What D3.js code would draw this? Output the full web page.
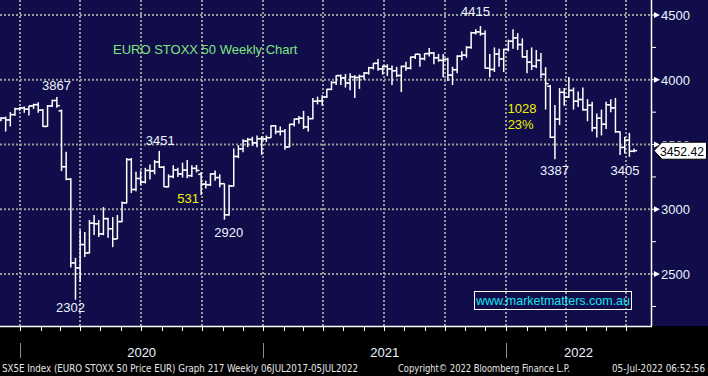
<!DOCTYPE html>
<html>
<head>
<meta charset="utf-8">
<script src="https://cdn.jsdelivr.net/npm/d3@7"></script>
<style>
	body { margin: 0; background: #000; }
	svg { display: block; font-family: "Liberation Sans", Arial, sans-serif; }
</style>
</head>
<body>
<svg id="chart" width="708" height="376"></svg>
<script>

// Weekly bars, each dated by the Friday that closes the week
const firstWeek = "2019-11-29";

const opens = [
	3690, 3704, 3690, 3731, 3776, 3782, 3773, 3798, 3808, 3766, 3640, 3798, 3840,
	3760, 3329, 3232, 2586, 2548, 2728, 2663, 2893, 2888, 2810, 2928, 2850, 2771,
	2905, 3050, 3384, 3153, 3238, 3210, 3300, 3296, 3366, 3325, 3174, 3253, 3305,
	3273, 3303, 3260, 3316, 3270, 3194, 3190, 3273, 3245, 3198, 2958, 3180, 3408,
	3467, 3527, 3539, 3513, 3545, 3543, 3553, 3645, 3600, 3602, 3481, 3656, 3697,
	3703, 3636, 3700, 3834, 3837, 3867, 3926, 3979, 4032, 4014, 3975, 4023, 4018,
	4026, 4052, 4093, 4127, 4084, 4103, 4084, 4070, 4033, 4103, 4089, 4175, 4197,
	4163, 4202, 4207, 4170, 4150, 4158, 4036, 4078, 4182, 4190, 4250, 4363, 4370,
	4356, 4089, 4080, 4199, 4161, 4234, 4298, 4324, 4272, 4177, 4136, 4105, 4150,
	4042, 3950, 3556, 3696, 3903, 3867, 3918, 3835, 3848, 3769, 3803, 3629, 3703,
	3657, 3807, 3783, 3599, 3478, 3533, 3448
];
const highs = [
	3712, 3716, 3750, 3785, 3790, 3794, 3800, 3815, 3826, 3775, 3805, 3846, 3867,
	3770, 3445, 3240, 2625, 2840, 2824, 2917, 2956, 2917, 3017, 2935, 2940, 2956,
	3060, 3396, 3396, 3290, 3300, 3320, 3345, 3380, 3451, 3335, 3270, 3340, 3320,
	3360, 3380, 3340, 3342, 3288, 3220, 3280, 3300, 3270, 3200, 3190, 3470, 3495,
	3540, 3551, 3560, 3570, 3565, 3570, 3648, 3650, 3640, 3620, 3660, 3700, 3720,
	3760, 3720, 3860, 3870, 3880, 3930, 3990, 4035, 4040, 4045, 4050, 4035, 4040,
	4060, 4100, 4130, 4160, 4110, 4120, 4110, 4100, 4110, 4140, 4180, 4200, 4200,
	4205, 4245, 4215, 4200, 4200, 4170, 4100, 4190, 4220, 4260, 4370, 4390, 4415,
	4380, 4200, 4250, 4240, 4240, 4310, 4390, 4360, 4320, 4230, 4250, 4230, 4207,
	4098, 3960, 3805, 3936, 3936, 4021, 3940, 3910, 3940, 3850, 3830, 3740, 3770,
	3830, 3850, 3860, 3600, 3560, 3590, 3470
];
const lows = [
	3680, 3600, 3640, 3722, 3760, 3745, 3725, 3775, 3745, 3635, 3638, 3790, 3784,
	3295, 3225, 2550, 2302, 2438, 2631, 2660, 2801, 2786, 2800, 2780, 2708, 2770,
	2900, 3045, 3125, 3140, 3190, 3200, 3230, 3270, 3320, 3172, 3170, 3240, 3250,
	3245, 3240, 3250, 3285, 3110, 3160, 3180, 3220, 3170, 2920, 2950, 3175, 3395,
	3440, 3480, 3490, 3480, 3420, 3520, 3550, 3580, 3570, 3460, 3480, 3640, 3660,
	3620, 3600, 3695, 3810, 3800, 3860, 3920, 3960, 3960, 3940, 3920, 3860, 3930,
	4000, 4040, 4080, 4070, 4040, 4030, 3960, 4020, 3905, 4070, 4080, 4160, 4100,
	4150, 4180, 4120, 4140, 4020, 3990, 3960, 4050, 4150, 4170, 4240, 4350, 4340,
	4085, 4020, 4060, 4100, 4060, 4220, 4240, 4230, 4170, 4050, 4075, 4090, 4013,
	3770, 3550, 3387, 3650, 3800, 3860, 3770, 3790, 3760, 3680, 3600, 3555, 3570,
	3620, 3750, 3590, 3420, 3430, 3405, 3440
];
const closes = [
	3704, 3690, 3731, 3776, 3782, 3773, 3798, 3808, 3766, 3640, 3798, 3840, 3800,
	3329, 3232, 2586, 2548, 2728, 2663, 2893, 2888, 2810, 2928, 2850, 2771, 2905,
	3050, 3384, 3153, 3238, 3210, 3300, 3296, 3366, 3325, 3174, 3253, 3305, 3273,
	3303, 3260, 3316, 3300, 3194, 3190, 3273, 3245, 3198, 2958, 3180, 3408, 3467,
	3527, 3539, 3513, 3545, 3543, 3553, 3645, 3600, 3602, 3481, 3656, 3697, 3703,
	3636, 3700, 3834, 3837, 3867, 3926, 3979, 4032, 4014, 3975, 4023, 4018, 4026,
	4052, 4093, 4127, 4084, 4103, 4084, 4070, 4033, 4103, 4089, 4175, 4197, 4163,
	4202, 4207, 4170, 4150, 4158, 4036, 4078, 4182, 4190, 4250, 4363, 4370, 4356,
	4089, 4080, 4199, 4161, 4234, 4298, 4324, 4272, 4177, 4136, 4105, 4150, 4042,
	3970, 3556, 3696, 3903, 3867, 3918, 3835, 3848, 3769, 3803, 3629, 3703, 3657,
	3807, 3783, 3599, 3478, 3533, 3448, 3452.42
];

const yTicks = [2500, 3000, 3500, 4000, 4500];
const yMinorTicks = [2250, 2750, 3250, 3750, 4250];
const years = ["2020", "2021", "2022"];
const lastPrice = 3452.42;

// Callouts, anchored in chart units (date, index level)
const whiteLabels = [
	{ text: "3867", date: "2020-02-25", value: 3921 },
	{ text: "2302", date: "2020-03-17", value: 2207 },
	{ text: "3451", date: "2020-07-30", value: 3496 },
	{ text: "2920", date: "2020-11-10", value: 2786 },
	{ text: "4415", date: "2021-11-16", value: 4492 },
	{ text: "3387", date: "2022-03-15", value: 3264 },
	{ text: "3405", date: "2022-06-29", value: 3264 }
];
const yellowLabels = [
	{ text: "531", date: "2020-09-10", value: 3048 },
	{ text: "1028", date: "2022-01-25", value: 3743 },
	{ text: "23%", date: "2022-01-23", value: 3620 }
];

const footerLeft = "SX5E Index (EURO STOXX 50 Price EUR) Graph 217  Weekly 06JUL2017-05JUL2022";
const footerMid = "Copyright\u00A9 2022 Bloomberg Finance L.P.";
const footerRight = "05-Jul-2022 06:52:56";

// ------- Layout -------
const width = 708, height = 376;
const plotW = 651, plotH = 326;
const barShift = 3;

const parseDate = d3.timeParse("%Y-%m-%d");
const bars = closes.map((c, i) => ({
	date: d3.timeDay.offset(parseDate(firstWeek), 7 * i),
	open: opens[i], high: highs[i], low: lows[i], close: c
}));

const xScale = d3.scaleTime()
				.domain([parseDate("2019-12-02"), parseDate("2022-08-07")])
				.range([0, plotW]);

const yScale = d3.scaleLinear()
				.domain([2099, 4616])
				.range([plotH, 0]);

const svg = d3.select("#chart");

svg.append("rect")
	.attr("width", width)
	.attr("height", height)
	.attr("fill", "#000");

svg.append("rect")
	.attr("width", width)
	.attr("height", plotH)
	.attr("fill", "#100d4a");

svg.append("defs")
	.append("clipPath")
		.attr("id", "plot-clip")
	.append("rect")
		.attr("width", plotW)
		.attr("height", plotH);

const plot = svg.append("g")
				.attr("clip-path", "url(#plot-clip)");

// Dotted grid
const quarters = d3.timeMonth.every(3).range(parseDate("2020-01-01"), parseDate("2022-08-01"));

plot.selectAll(".hgrid")
	.data(yTicks)
	.enter()
	.append("line")
		.attr("x1", 0)
		.attr("x2", plotW)
		.attr("y1", d => yScale(d))
		.attr("y2", d => yScale(d))
		.attr("stroke", "#9a9a9a")
		.attr("stroke-width", 2)
		.attr("stroke-dasharray", "2,2");

plot.selectAll(".vgrid")
	.data(quarters)
	.enter()
	.append("line")
		.attr("x1", d => Math.round(xScale(d)))
		.attr("x2", d => Math.round(xScale(d)))
		.attr("y1", 0)
		.attr("y2", plotH)
		.attr("stroke", "#9a9a9a")
		.attr("stroke-width", 2)
		.attr("stroke-dasharray", "2,2");

// OHLC bars
const barX = d => xScale(d.date) + barShift;

const ohlc = plot.selectAll(".bar")
				.data(bars)
				.enter()
				.append("g")
				.attr("stroke", "#fff")
				.attr("stroke-width", 1.5);

ohlc.append("line")
	.attr("x1", barX)
	.attr("x2", barX)
	.attr("y1", d => yScale(d.high))
	.attr("y2", d => yScale(d.low));

ohlc.append("line")
	.attr("x1", d => barX(d) - 3)
	.attr("x2", barX)
	.attr("y1", d => yScale(d.open))
	.attr("y2", d => yScale(d.open));

ohlc.append("line")
	.attr("x1", barX)
	.attr("x2", d => barX(d) + 3)
	.attr("y1", d => yScale(d.close))
	.attr("y2", d => yScale(d.close));

// Callouts
plot.selectAll(".callout-white")
	.data(whiteLabels)
	.enter()
	.append("text")
		.attr("x", d => xScale(parseDate(d.date)))
		.attr("y", d => yScale(d.value))
		.attr("text-anchor", "middle")
		.attr("font-size", 13)
		.attr("fill", "#eef3ff")
		.text(d => d.text);

plot.selectAll(".callout-yellow")
	.data(yellowLabels)
	.enter()
	.append("text")
		.attr("x", d => xScale(parseDate(d.date)))
		.attr("y", d => yScale(d.value))
		.attr("text-anchor", "middle")
		.attr("font-size", 13)
		.attr("fill", "#f2f200")
		.text(d => d.text);

plot.append("text")
	.attr("x", 113)
	.attr("y", 54)
	.attr("font-size", 13)
	.attr("fill", "#7fe57f")
	.text("EURO STOXX 50 Weekly Chart");

// Watermark box
const mark = plot.append("g");
mark.append("rect")
	.attr("x", 474.5)
	.attr("y", 291.5)
	.attr("width", 157)
	.attr("height", 18)
	.attr("fill", "none")
	.attr("stroke", "#fff")
	.attr("stroke-width", 1);
mark.append("text")
	.attr("x", 476)
	.attr("y", 305)
	.attr("font-size", 13)
	.attr("textLength", 154)
	.attr("lengthAdjust", "spacingAndGlyphs")
	.attr("fill", "#19e3f0")
	.text("www.marketmatters.com.au");

// Right price axis
const yAxis = svg.append("g")
				.attr("transform", "translate(" + plotW + ",0)");

yAxis.append("line")
	.attr("x1", 0.5).attr("x2", 0.5)
	.attr("y1", 0).attr("y2", plotH)
	.attr("stroke", "#fff")
	.attr("stroke-width", 1.5);

yAxis.selectAll(".minor")
	.data(yMinorTicks)
	.enter()
	.append("line")
		.attr("x1", 0).attr("x2", 5)
		.attr("y1", d => yScale(d)).attr("y2", d => yScale(d))
		.attr("stroke", "#fff");

const major = yAxis.selectAll(".major")
					.data(yTicks)
					.enter()
					.append("g")
					.attr("transform", d => "translate(0," + yScale(d) + ")");

major.append("path")
	.attr("d", "M0,-0.5 L3,-0.5 L3,-3 L9,0 L3,3 L3,0.5 L0,0.5 Z")
	.attr("fill", "#fff");

major.append("text")
	.attr("x", 10)
	.attr("y", 5)
	.attr("font-size", 13)
	.attr("fill", "#eef3ff")
	.text(d => d);

// Last price flag (sits over the 3500 label, as on the terminal)
const flag = yAxis.append("g")
				.attr("transform", "translate(0," + yScale(lastPrice) + ")");

flag.append("path")
	.attr("d", "M3,0 L11,-8.5 L55.5,-8.5 L55.5,8.5 L11,8.5 Z")
	.attr("fill", "#fff")
	.attr("stroke", "#000")
	.attr("stroke-width", 1);

flag.append("text")
	.attr("x", 9)
	.attr("y", 5)
	.attr("font-size", 12.5)
	.attr("textLength", 44)
	.attr("lengthAdjust", "spacingAndGlyphs")
	.attr("fill", "#000")
	.text(d3.format(".2f")(lastPrice));

// Bottom time axis
const xAxis = svg.append("g");

xAxis.append("line")
	.attr("x1", 0).attr("x2", plotW + 1)
	.attr("y1", plotH + 0.5).attr("y2", plotH + 0.5)
	.attr("stroke", "#fff")
	.attr("stroke-width", 1.5);

xAxis.selectAll(".month")
	.data(d3.timeMonth.range(parseDate("2019-12-01"), parseDate("2022-08-01")))
	.enter()
	.append("line")
		.attr("x1", d => Math.round(xScale(d)) + 0.5)
		.attr("x2", d => Math.round(xScale(d)) + 0.5)
		.attr("y1", plotH)
		.attr("y2", plotH + 5)
		.attr("stroke", "#fff");

const yearStarts = years.map(y => parseDate(y + "-01-01"));

xAxis.selectAll(".year-sep")
	.data(yearStarts)
	.enter()
	.append("line")
		.attr("x1", d => Math.round(xScale(d)) + 0.5)
		.attr("x2", d => Math.round(xScale(d)) + 0.5)
		.attr("y1", 343)
		.attr("y2", 358)
		.attr("stroke", "#8c8c8c");

xAxis.selectAll(".year")
	.data(years)
	.enter()
	.append("text")
		.attr("x", (d, i) => {
			const x0 = xScale(yearStarts[i]);
			const x1 = Math.min(plotW, xScale(parseDate((+d + 1) + "-01-01")));
			return (x0 + x1) / 2;
		})
		.attr("y", 357)
		.attr("text-anchor", "middle")
		.attr("font-size", 13)
		.attr("fill", "#eef3ff")
		.text(d => d);

// Footer
const footer = svg.append("g")
				.attr("font-family", "'Liberation Sans Narrow', 'DejaVu Sans Condensed', sans-serif")
				.attr("font-size", 11)
				.attr("fill", "#e6e6e6");

footer.append("text")
	.attr("x", 2).attr("y", 372)
	.attr("textLength", 356)
	.attr("lengthAdjust", "spacingAndGlyphs")
	.text(footerLeft);

footer.append("text")
	.attr("x", 398).attr("y", 372)
	.attr("textLength", 172)
	.attr("lengthAdjust", "spacingAndGlyphs")
	.text(footerMid);

footer.append("text")
	.attr("x", 612).attr("y", 372)
	.attr("textLength", 93)
	.attr("lengthAdjust", "spacingAndGlyphs")
	.text(footerRight);

</script>
</body>
</html>
